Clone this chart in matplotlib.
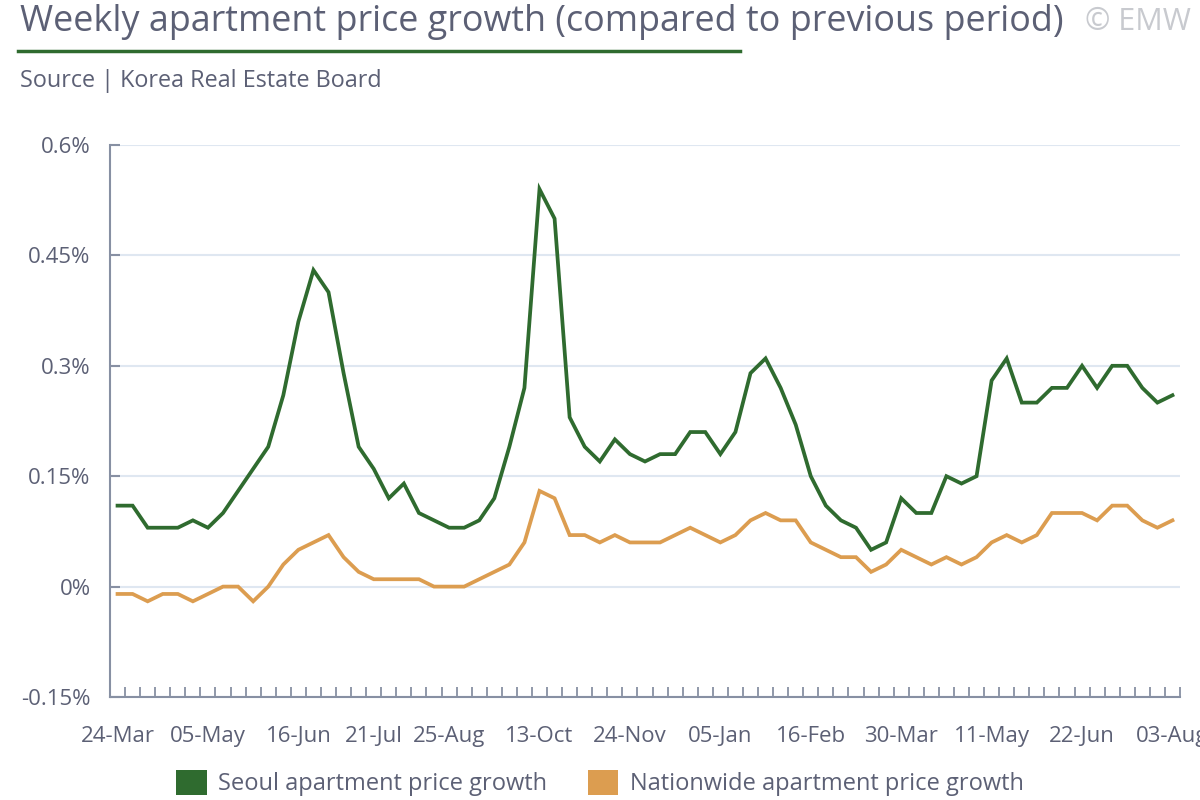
import matplotlib
matplotlib.use('Agg')
import matplotlib.pyplot as plt
from matplotlib.patches import Patch
from matplotlib.lines import Line2D
import pandas as pd

# weekly survey dates (the Chuseok week of 06-Oct has no release)
weeks = pd.date_range('2025-03-24', periods=72, freq='7D')
weeks = weeks[weeks != pd.Timestamp('2025-10-06')]
week_labels = [d.strftime('%d-%b') for d in weeks]

shown_labels = ['24-Mar', '05-May', '16-Jun', '21-Jul', '25-Aug', '13-Oct', '24-Nov',
                '05-Jan', '16-Feb', '30-Mar', '11-May', '22-Jun', '03-Aug']

seoul = [0.11, 0.11, 0.08, 0.08, 0.08, 0.09, 0.08, 0.10, 0.13, 0.16,
         0.19, 0.26, 0.36, 0.43, 0.40, 0.29, 0.19, 0.16, 0.12, 0.14,
         0.10, 0.09, 0.08, 0.08, 0.09, 0.12, 0.19, 0.27, 0.54, 0.50,
         0.23, 0.19, 0.17, 0.20, 0.18, 0.17, 0.18, 0.18, 0.21, 0.21,
         0.18, 0.21, 0.29, 0.31, 0.27, 0.22, 0.15, 0.11, 0.09, 0.08,
         0.05, 0.06, 0.12, 0.10, 0.10, 0.15, 0.14, 0.15, 0.28, 0.31,
         0.25, 0.25, 0.27, 0.27, 0.30, 0.27, 0.30, 0.30, 0.27, 0.25,
         0.26]

nationwide = [-0.01, -0.01, -0.02, -0.01, -0.01, -0.02, -0.01, 0.00, 0.00, -0.02,
              0.00, 0.03, 0.05, 0.06, 0.07, 0.04, 0.02, 0.01, 0.01, 0.01,
              0.01, 0.00, 0.00, 0.00, 0.01, 0.02, 0.03, 0.06, 0.13, 0.12,
              0.07, 0.07, 0.06, 0.07, 0.06, 0.06, 0.06, 0.07, 0.08, 0.07,
              0.06, 0.07, 0.09, 0.10, 0.09, 0.09, 0.06, 0.05, 0.04, 0.04,
              0.02, 0.03, 0.05, 0.04, 0.03, 0.04, 0.03, 0.04, 0.06, 0.07,
              0.06, 0.07, 0.10, 0.10, 0.10, 0.09, 0.11, 0.11, 0.09, 0.08,
              0.09]

y_ticks = [-0.15, 0, 0.15, 0.3, 0.45, 0.6]
y_tick_labels = ['-0.15%', '0%', '0.15%', '0.3%', '0.45%', '0.6%']

GREEN = '#2f6b2f'
ORANGE = '#dc9d50'
TEXT = '#5c6075'
AXIS = '#8790a3'
GRID = '#dfe7f1'

plt.rcParams['font.family'] = ['Open Sans', 'DejaVu Sans']

fig = plt.figure(figsize=(12, 8), dpi=100)
ax = fig.add_axes([110 / 1200, 103 / 800, 1070 / 1200, 552 / 800])

x = list(range(len(seoul)))
ax.plot(x, nationwide, color=ORANGE, lw=2.7, solid_joinstyle='miter', zorder=3)
ax.plot(x, seoul, color=GREEN, lw=2.7, solid_joinstyle='miter', zorder=4)

ax.set_xlim(-0.5, len(seoul) - 0.5)
ax.set_ylim(-0.15, 0.6)

ax.set_yticks(y_ticks)
ax.set_yticklabels(y_tick_labels)
ax.yaxis.grid(True, color=GRID, lw=1.5, zorder=0)
ax.set_axisbelow(True)
ax.tick_params(axis='y', direction='in', length=7, width=1.5, color=AXIS,
               labelsize=16, labelcolor=TEXT, pad=14)

ax.set_xticks([week_labels.index(s) for s in shown_labels])
ax.set_xticklabels(shown_labels)
ax.set_xticks([i - 0.5 for i in range(len(seoul) + 1)], minor=True)
ax.tick_params(axis='x', which='major', length=0, labelsize=16, labelcolor=TEXT, pad=21)
ax.tick_params(axis='x', which='minor', direction='in', length=7, width=1.3, color=AXIS)

for side in ['top', 'right']:
    ax.spines[side].set_visible(False)
for side in ['left', 'bottom']:
    ax.spines[side].set_color(AXIS)
    ax.spines[side].set_linewidth(1.5)

# header
fig.text(20 / 1200, 1 - 22 / 800, 'Weekly apartment price growth (compared to previous period)',
         fontsize=25.8, color=TEXT, va='center', ha='left')
fig.add_artist(Line2D([18 / 1200, 740 / 1200], [1 - 51 / 800, 1 - 51 / 800],
                      color=GREEN, lw=2.5))
fig.text(1085 / 1200, 1 - 22 / 800, '© EMW', fontsize=22, color='#c8cacf',
         va='center', ha='left')
fig.text(20 / 1200, 1 - 81 / 800, 'Source | Korea Real Estate Board',
         fontsize=16.8, color=TEXT, va='center', ha='left')

handles = [Patch(facecolor=GREEN, label='Seoul apartment price growth'),
           Patch(facecolor=ORANGE, label='Nationwide apartment price growth')]
fig.legend(handles=handles, loc='center', bbox_to_anchor=(0.5, 1 - 783 / 800), ncol=2,
           frameon=False, fontsize=17, labelcolor=TEXT, handlelength=1.3,
           handleheight=1.3, handletextpad=0.5, columnspacing=1.7)

fig.savefig('out.png', dpi=100)
